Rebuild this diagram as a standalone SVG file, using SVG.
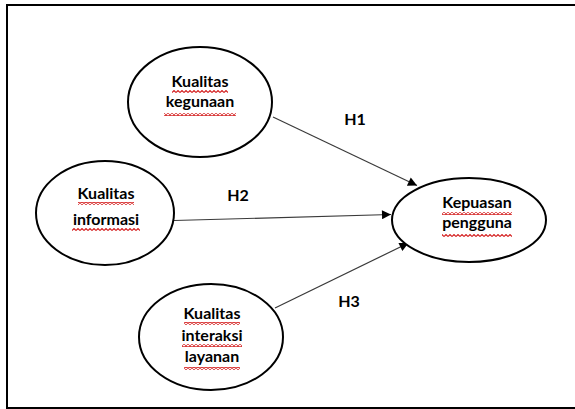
<svg xmlns="http://www.w3.org/2000/svg" width="575" height="409" viewBox="0 0 575 409">
<style>
.node ellipse{fill:#fff;stroke:#000;stroke-width:2}
.lbl{font-family:Lato,"Open Sans","Liberation Sans",sans-serif;font-weight:bold;font-size:16px;fill:#000;text-anchor:middle}
.sq{fill:url(#wave)}
.edge{stroke:#3a3a3a;stroke-width:1.2;fill:none;marker-end:url(#ah)}
</style>
<defs>
<pattern id="wave" patternUnits="userSpaceOnUse" width="4" height="3">
<path d="M0 2.5 L2 0.5 L4 2.5" fill="none" stroke="#d42020" stroke-width="1.1"/>
</pattern>
<marker id="ah" viewBox="0 0 10 10" refX="10" refY="5" markerWidth="10" markerHeight="9" markerUnits="userSpaceOnUse" orient="auto">
<path d="M0 0 L10 5 L0 10 Z" fill="#000"/>
</marker>
</defs>
<rect width="575" height="409" fill="#fff"/>
<path d="M576 5 H7 V408 H576" fill="none" stroke="#000" stroke-width="2"/>

<g id="connectors">
<line class="edge" x1="273" y1="117" x2="417" y2="185.5"/>
<line class="edge" x1="174" y1="220.5" x2="391" y2="214.5"/>
<line class="edge" x1="275" y1="308" x2="408.5" y2="243"/>
<text class="lbl" x="355" y="125">H1</text>
<text class="lbl" x="238" y="201">H2</text>
<text class="lbl" x="349" y="307">H3</text>
</g>

<g id="kegunaan" class="node">
<ellipse cx="200" cy="102" rx="72" ry="55"/>
<text class="lbl" x="200" y="87">Kualitas</text>
<text class="lbl" x="200" y="107">kegunaan</text>
<rect class="sq" x="172" y="90" width="56" height="3"/>
<rect class="sq" x="164" y="113" width="72" height="3"/>
</g>

<g id="informasi" class="node">
<ellipse cx="105" cy="213" rx="69" ry="52"/>
<text class="lbl" x="106" y="199">Kualitas</text>
<text class="lbl" x="106" y="225">informasi</text>
<rect class="sq" x="78" y="202" width="56" height="3"/>
<rect class="sq" x="72" y="228" width="68" height="3"/>
</g>

<g id="kepuasan" class="node">
<ellipse cx="469" cy="220" rx="77" ry="42"/>
<text class="lbl" x="477" y="208">Kepuasan</text>
<text class="lbl" x="477" y="228">pengguna</text>
<rect class="sq" x="442" y="212" width="70" height="3"/>
<rect class="sq" x="442" y="234" width="70" height="3"/>
</g>

<g id="interaksi" class="node">
<ellipse cx="211" cy="337" rx="72" ry="53"/>
<text class="lbl" x="212" y="319">Kualitas</text>
<text class="lbl" x="212" y="341">interaksi</text>
<text class="lbl" x="212" y="362">layanan</text>
<rect class="sq" x="184" y="322" width="56" height="3"/>
<rect class="sq" x="182" y="344" width="60" height="3"/>
<rect class="sq" x="184" y="367" width="56" height="3"/>
</g>
</svg>
